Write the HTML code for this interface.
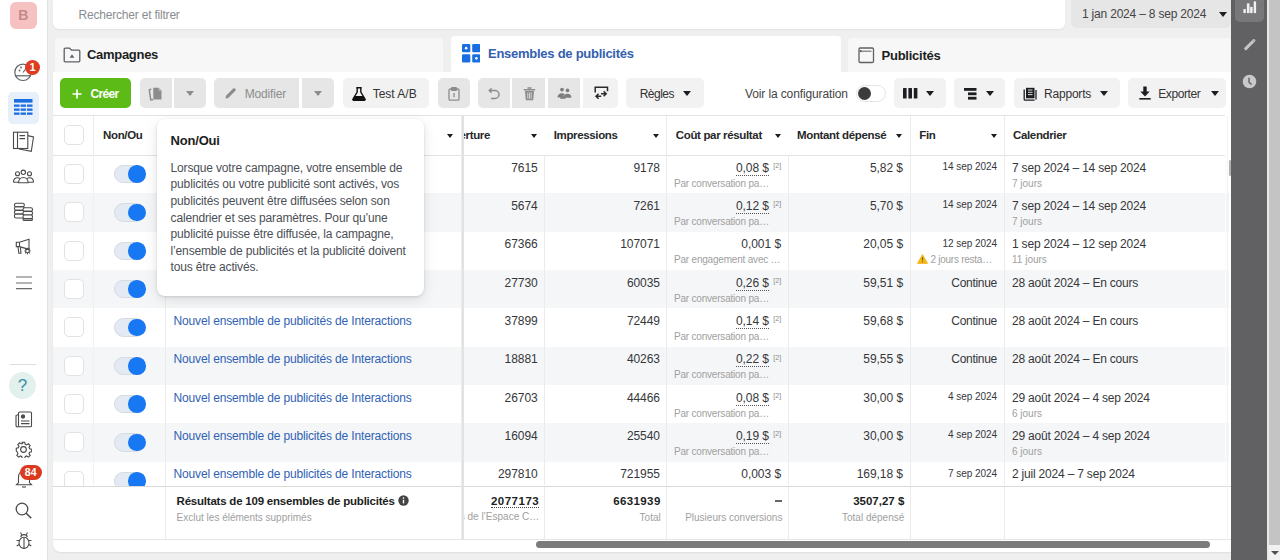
<!DOCTYPE html>
<html lang="fr"><head><meta charset="utf-8"><title>Ads Manager</title>
<style>
*{box-sizing:border-box;margin:0;padding:0}
html,body{width:1280px;height:560px;overflow:hidden}
body{position:relative;background:#efefef;font-family:"Liberation Sans",Arial,sans-serif;color:#1c1e21;font-size:12px}
.a{position:absolute}
#side{left:0;top:0;width:48px;height:560px;background:#fff;border-right:1px solid #e2e2e2}
#search{left:53px;top:0;width:1012px;height:28.5px;background:#fff;border-radius:0 0 6px 6px;box-shadow:0 1px 2px rgba(0,0,0,.06)}
#search span{position:absolute;left:25.5px;top:7.7px;color:#8a8d91;font-size:12px;letter-spacing:-.2px;line-height:14px}
#date{left:1071px;top:0;width:160px;height:28px;background:#e6e6e6;border-radius:0 0 6px 6px}
#date span{position:absolute;left:11px;top:7px;color:#444;font-size:12px;letter-spacing:-.2px;line-height:14px}
.car{position:absolute;width:0;height:0;border-left:4.5px solid transparent;border-right:4.5px solid transparent;border-top:5px solid #1c1e21}
#dpanel{left:1231px;top:0;width:36px;height:560px;background:#616163}
#vscroll{left:1267px;top:0;width:13px;height:560px;background:#c4c4c4;border-left:2px solid #e9e9e9}
#card{left:53px;top:72px;width:1178px;height:479.5px;background:#fff;border-radius:0 0 0 8px;box-shadow:0 1px 2px rgba(0,0,0,.07)}
.tab{position:absolute;top:38px;height:34px;background:#f7f7f7;border-radius:4px 4px 0 0}
.tab b{position:absolute;top:10px;font-size:13px;letter-spacing:-.27px;line-height:15px;font-weight:700}
.btn{position:absolute;top:78px;height:29.6px;border-radius:5px;background:#f2f2f2}
.dis{background:#e6e6e6}
.bt{position:absolute;top:8px;font-size:12px;line-height:14px;letter-spacing:-.15px;color:#3a3b3c}
.row{position:absolute;left:53px;width:1176px;height:38.33px}
.row.g{background:#f5f6f7}
.vl{position:absolute;width:1px;background:#ebebeb}
.c{position:absolute;white-space:nowrap;font-size:12px;line-height:14px;letter-spacing:-.1px;color:#36373a}
.r{text-align:right}
.sub{position:absolute;white-space:nowrap;font-size:10px;line-height:12px;color:#a0a0a0}
.hd{position:absolute;top:129px;font-weight:700;font-size:11.5px;letter-spacing:-.35px;line-height:13px;white-space:nowrap;color:#27282a}
.hc{position:absolute;top:134px;width:0;height:0;border-left:3.5px solid transparent;border-right:3.5px solid transparent;border-top:4px solid #1c1e21}
.cb{position:absolute;left:64px;width:20px;height:20px;border:1px solid #e1e2e4;border-radius:5px;background:#fff}
.tg{position:absolute;left:114px;width:31px;height:18.5px;border-radius:10px;background:#e3eaf4;border:1px solid #d5dbe3}
.tg i{position:absolute;right:-1.5px;top:-0.5px;width:17.5px;height:17.5px;border-radius:50%;background:#1877f2}
.nm{position:absolute;left:173.5px;color:#2f62b5;font-size:12px;letter-spacing:-.15px;line-height:14px;white-space:nowrap}
.cost{border-bottom:1px dotted #555}
.sup{position:absolute;font-size:7px;color:#8a8a8a;line-height:8px}
.fin{font-size:10px;line-height:12px;letter-spacing:-.1px}
.cal{letter-spacing:-.2px}
.ft{font-size:11.5px;line-height:13px;font-weight:700;white-space:nowrap}
.c.r{letter-spacing:-.05px}
#tip{left:157px;top:118.5px;width:267px;height:177.5px;background:#fff;border-radius:8px;box-shadow:0 1px 3px rgba(0,0,0,.12),0 4px 14px rgba(0,0,0,.10)}
#tip b{position:absolute;left:13.6px;top:14.5px;font-size:13px;line-height:15px;letter-spacing:-.2px}
#tip p{position:absolute;left:13.6px;top:41.3px;font-size:12px;line-height:16.6px;letter-spacing:-.16px;color:#4b4f56;white-space:nowrap}
</style></head><body>

<!-- LEFT SIDEBAR -->
<div id="side" class="a">
<div class="a" style="left:10px;top:2px;width:26.5px;height:26.5px;border-radius:6px;background:#f6c1c1;color:#c48a8a;font-weight:700;font-size:14px;line-height:27px;text-align:center">B</div>
<svg class="a" style="left:0;top:55px" width="48" height="30" viewBox="0 0 48 30">
 <circle cx="23" cy="17.3" r="8.2" fill="none" stroke="#5f6368" stroke-width="1.2"/>
 <path d="M15.2 20.8 H30.8" stroke="#5f6368" stroke-width="1.2"/>
 <circle cx="19.5" cy="15.5" r="0.9" fill="#5f6368"/><circle cx="21" cy="12.5" r="0.9" fill="#5f6368"/><path d="M23 17.5l3-4" stroke="#5f6368" stroke-width="1.1"/>
</svg>
<div class="a" style="left:25px;top:59.5px;width:15px;height:15px;border-radius:50%;background:#de3b1f;color:#fff;font-weight:700;font-size:11px;line-height:15px;text-align:center">1</div>
<div class="a" style="left:8px;top:91.5px;width:31px;height:32px;border-radius:5px;background:#e7effb"></div>
<svg class="a" style="left:14px;top:99px" width="19" height="17" viewBox="0 0 19 17">
 <rect x="0" y="0" width="18.5" height="3.6" fill="#1b6fe0"/>
 <g fill="#1b6fe0"><rect x="0" y="5.5" width="5.6" height="2.3"/><rect x="6.6" y="5.5" width="5.4" height="2.3"/><rect x="13" y="5.5" width="5.5" height="2.3"/>
 <rect x="0" y="9.5" width="5.6" height="2.3"/><rect x="6.6" y="9.5" width="5.4" height="2.3"/><rect x="13" y="9.5" width="5.5" height="2.3"/>
 <rect x="0" y="13.5" width="5.6" height="2.3"/><rect x="6.6" y="13.5" width="5.4" height="2.3"/><rect x="13" y="13.5" width="5.5" height="2.3"/></g>
</svg>
<svg class="a" style="left:12px;top:131px" width="24" height="22" viewBox="0 0 24 22" fill="none" stroke="#4a4a4a" stroke-width="1.1">
 <path d="M15.8 4.6L21.5 6 19.3 20.3 7 18"/>
 <rect x="1.5" y="1.2" width="14.3" height="16.3" fill="#fff"/>
 <path d="M5.5 1.2v16.3"/>
 <path d="M7.5 4.6h5.5M7.5 7.6h5.5"/>
</svg>
<svg class="a" style="left:12px;top:166px" width="24" height="20" viewBox="0 0 24 20" fill="none" stroke="#4a4a4a" stroke-width="1.1">
 <circle cx="5.5" cy="7.8" r="2"/><circle cx="11.3" cy="6.3" r="2.2"/><circle cx="17.5" cy="7.8" r="2"/>
 <path d="M1.5 16.3c0-2.6 1.6-4.5 4-4.5c1 0 1.8 .3 2.4 .8M21.5 16.3c0-2.6-1.6-4.5-4-4.5c-1 0-1.8 .3-2.4 .8"/>
 <path d="M6.5 16.8c0-3.2 2.1-5.3 4.8-5.3s4.8 2.1 4.8 5.3z"/>
 <path d="M1.5 16.3h5M16.1 16.3h5.4"/>
</svg>
<svg class="a" style="left:12px;top:201px" width="24" height="22" viewBox="0 0 24 22" fill="none" stroke="#4a4a4a" stroke-width="1.1">
 <rect x="2.5" y="2.2" width="9.8" height="3.6" rx="1.6"/><rect x="2.5" y="5.8" width="9.8" height="3.6" rx="1.6"/><rect x="2.5" y="9.4" width="9.8" height="3.6" rx="1.6"/><rect x="2.5" y="13" width="9.8" height="4" rx="1.6"/>
 <rect x="11" y="6.8" width="9.5" height="3.6" rx="1.6" fill="#fff"/><rect x="11" y="10.4" width="9.5" height="3.6" rx="1.6" fill="#fff"/><rect x="11" y="14" width="9.5" height="3.6" rx="1.6" fill="#fff"/><rect x="11" y="17.6" width="9.5" height="1.8" rx=".9" fill="#fff"/>
</svg>
<svg class="a" style="left:14px;top:238px" width="20" height="18" viewBox="0 0 20 18" fill="none" stroke="#4a4a4a" stroke-width="1.1">
 <path d="M2.3 4.2h3.2l9.5-3v10.2L5.5 8.6H2.3z"/><path d="M5.5 4.2v4.4"/><path d="M4 8.8l.8 6.5h2.2l-.6-6"/>
 <circle cx="13.5" cy="13" r="1.8"/><path d="M13.5 9.8v1.2M13.5 15v1.3M10.3 13h1.3M15.4 13h1.3M11.2 10.7l.9.9M15 14.4l.9.9M11.2 15.3l.9-.9M15 11.6l.9-.9"/>
</svg>
<svg class="a" style="left:16px;top:270px" width="16" height="22" viewBox="0 0 16 22" stroke="#6a6a6a" stroke-width="1.2"><path d="M0 7h16M0 13h16M0 18.6h16"/></svg>
<div class="a" style="left:10px;top:364px;width:26px;height:1px;background:#ddd"></div>
<div class="a" style="left:9px;top:372px;width:27px;height:27px;border-radius:50%;background:#e2f0ee;color:#3b8fa8;font-size:17px;line-height:27px;text-align:center">?</div>
<svg class="a" style="left:14px;top:410px" width="20" height="19" viewBox="0 0 20 19" fill="none" stroke="#4a4a4a" stroke-width="1.1">
 <rect x="4.5" y="2" width="13" height="14.8" rx="1"/><path d="M4.5 4.5L2 5.5v10c0 .8.8 1.5 2.5 1.5"/>
 <circle cx="9" cy="6.5" r="1.6" fill="#4a4a4a"/><path d="M7 11h8.5M7 13.6h8.5"/>
</svg>
<svg class="a" style="left:15px;top:441px" width="17" height="17" viewBox="0 0 24 24" fill="none" stroke="#4a4a4a" stroke-width="1.6">
 <circle cx="12" cy="12" r="4"/>
 <path d="M10.2 1.8h3.6l.6 2.9 2 .9 2.5-1.6 2.5 2.5-1.6 2.5.9 2 2.9.6v3.6l-2.9.6-.9 2 1.6 2.5-2.5 2.5-2.5-1.6-2 .9-.6 2.9h-3.6l-.6-2.9-2-.9-2.5 1.6-2.5-2.5 1.6-2.5-.9-2L1.8 13.8v-3.6l2.9-.6.9-2-1.6-2.5 2.5-2.5 2.5 1.6 2-.9z"/>
</svg>
<svg class="a" style="left:13.5px;top:467px" width="20" height="22" viewBox="0 0 20 22" fill="none" stroke="#4a4a4a" stroke-width="1.1">
 <path d="M4.5 15.5V9.5a5.5 5.5 0 0 1 11 0v6l2 2.3H2.5z"/><path d="M8 20h4"/>
</svg>
<div class="a" style="left:20px;top:465.4px;width:21.7px;height:15px;border-radius:8px;background:#dc3a1f;color:#fff;font-weight:700;font-size:10.5px;line-height:15px;text-align:center;letter-spacing:.2px">84</div>
<svg class="a" style="left:15px;top:502px" width="18" height="17" viewBox="0 0 18 17" fill="none" stroke="#4a4a4a" stroke-width="1.3">
 <circle cx="7" cy="7" r="5.8"/><path d="M11.2 11.2L16.2 16.2" stroke-width="1.6"/>
</svg>
<svg class="a" style="left:15px;top:531px" width="18" height="19" viewBox="0 0 18 19" fill="none" stroke="#4a4a4a" stroke-width="1.1">
 <path d="M5.8 6.2a3.2 2.6 0 0 1 6.4 0"/><ellipse cx="9" cy="11.8" rx="5" ry="5.6"/><path d="M9 6.4v11M5.5 1.5l1.3 2.2M12.5 1.5l-1.3 2.2M4 9.5H1.5M14 9.5h2.5M4 13.5l-2.3 1.5M14 13.5l2.3 1.5"/>
</svg>
</div>

<!-- TOP -->
<div id="search" class="a"><span>Rechercher et filtrer</span></div>
<div id="date" class="a"><span>1 jan 2024 – 8 sep 2024</span><i class="car" style="left:148px;top:12px"></i></div>

<!-- CARD -->
<div id="card" class="a"></div>
<div class="tab" style="left:55px;width:388px"></div>
<svg class="a" style="left:63px;top:47px" width="18" height="16" viewBox="0 0 18 16" fill="none" stroke="#5f6064" stroke-width="1.3">
 <path d="M1.2 2.2c0-.6.4-1 1-1h4.3l2 2h7.3c.6 0 1 .4 1 1v9.6c0 .6-.4 1-1 1H2.2c-.6 0-1-.4-1-1z"/>
 <path d="M9 7.2l2.3 3.6H6.7z" fill="#5f6064" stroke="none"/>
</svg>
<b class="a" style="left:87px;top:47.3px;font-size:13px;letter-spacing:-.3px;line-height:15px">Campagnes</b>
<div class="tab" style="left:451px;width:390px;top:36px;height:37px;background:#fff"></div>
<svg class="a" style="left:461.5px;top:44.3px" width="18.5" height="18.5" viewBox="0 0 18.5 18.5">
 <g fill="#1a6fe0"><rect x="0" y="0" width="8.3" height="8.3" rx="1.3"/><rect x="10.2" y="0" width="8.3" height="8.3" rx="1.3"/>
 <rect x="0" y="10.2" width="8.3" height="8.3" rx="1.3"/><rect x="10.2" y="10.2" width="8.3" height="8.3" rx="1.3"/></g>
 <circle cx="4.15" cy="4.15" r="1.3" fill="#fff"/><circle cx="14.35" cy="14.35" r="1.3" fill="#fff"/>
</svg>
<b class="a" style="left:488px;top:46.2px;font-size:13px;letter-spacing:-.26px;line-height:15px;color:#3360b0">Ensembles de publicités</b>
<div class="tab" style="left:848px;width:383px"></div>
<svg class="a" style="left:858px;top:47px" width="17" height="16.5" viewBox="0 0 17 16.5" fill="none" stroke="#5f6064" stroke-width="1.3">
 <rect x="1" y="1" width="14.5" height="14.5" rx="1.2"/><path d="M3.8 4.2H13.5" stroke-width="1"/><circle cx="2.8" cy="4.2" r="0.5" fill="#5f6064"/>
</svg>
<b class="a" style="left:881.5px;top:47.5px;font-size:13px;letter-spacing:-.24px;line-height:15px">Publicités</b>


<!-- TOOLBAR -->
<div class="btn" style="left:60.3px;width:71.2px;background:#5dbb17"></div>
<svg class="a" style="left:72px;top:88.5px" width="10" height="10" viewBox="0 0 10 10" stroke="#fff" stroke-width="1.7"><path d="M5 0.5v9M0.5 5h9"/></svg>
<span class="bt a" style="left:90.5px;top:86.6px;color:#fff;font-weight:700;font-size:12px;letter-spacing:-.7px">Créer</span>

<div class="btn dis" style="left:140px;width:31.5px;border-radius:5px 0 0 5px"></div>
<svg class="a" style="left:148px;top:86.5px" width="16" height="14" viewBox="0 0 16 14">
 <path d="M3.2 1.8 L1.3 3 L2.8 13 L5.2 12.6" fill="none" stroke="#8c8c8c" stroke-width="1.5"/>
 <path d="M5.3 0.8h5.2l3 3v8.8H5.3z" fill="#8c8c8c"/><path d="M10.5 0.8v3h3" fill="#b4b4b4"/>
</svg>
<div class="btn dis" style="left:174px;width:31.6px;border-radius:0 5px 5px 0"></div>
<i class="car" style="left:185.5px;top:91px;border-top-color:#8c8c8c"></i>

<div class="btn dis" style="left:214.4px;width:85px;border-radius:5px 0 0 5px"></div>
<svg class="a" style="left:224px;top:86.5px" width="13" height="13" viewBox="0 0 13 13"><path d="M1.5 11.5l0.5-2.7L9.2 1.6a1.2 1.2 0 0 1 1.7 0l0.5 .5a1.2 1.2 0 0 1 0 1.7L4.2 11z" fill="#8c8c8c"/></svg>
<span class="bt a" style="left:244.7px;top:86.6px;color:#8c8c8c;letter-spacing:-.15px">Modifier</span>
<div class="btn dis" style="left:302.3px;width:32.1px;border-radius:0 5px 5px 0"></div>
<i class="car" style="left:313.5px;top:91px;border-top-color:#8c8c8c"></i>

<div class="btn" style="left:342.8px;width:86.6px"></div>
<svg class="a" style="left:351.5px;top:86.5px" width="14" height="14" viewBox="0 0 14 14"><path d="M4.3 0.8h5.4M5.2 0.8v4.2L1 12c-.4.7 0 1.3.8 1.3h10.4c.8 0 1.2-.6.8-1.3L8.8 5V0.8" fill="none" stroke="#111" stroke-width="1.4"/><path d="M2.6 9h8.8l1.6 3c.3.6 0 1-.6 1H1.6c-.6 0-.9-.4-.6-1z" fill="#111"/></svg>
<span class="bt a" style="left:372.7px;top:86.6px;color:#333;letter-spacing:0px">Test A/B</span>

<div class="btn dis" style="left:437.8px;width:32.2px"></div>
<svg class="a" style="left:448px;top:86.5px" width="12" height="14" viewBox="0 0 12 14" fill="none" stroke="#8c8c8c" stroke-width="1.3"><rect x="1" y="2" width="10" height="11.2" rx="1.2"/><rect x="3.6" y="0.7" width="4.8" height="2.6" rx=".6" fill="#8c8c8c"/><path d="M6 6v4.2" /></svg>

<div class="btn dis" style="left:477.8px;width:32.5px;border-radius:5px 0 0 5px"></div>
<svg class="a" style="left:487px;top:87.5px" width="14" height="13" viewBox="0 0 14 13" fill="none" stroke="#8c8c8c" stroke-width="1.5"><path d="M2.5 2.5h5.5a4 4 0 0 1 0 8H4"/><path d="M4.6 0.4L2.3 2.5l2.3 2.1"/></svg>
<div class="btn dis" style="left:512.3px;width:32.7px;border-radius:0"></div>
<svg class="a" style="left:522.5px;top:86.5px" width="13" height="14" viewBox="0 0 13 14"><path d="M4.5 1h4M0.8 2.8h11.4" stroke="#8c8c8c" stroke-width="1.4"/><path d="M2 4h9l-.8 9.3H2.8z" fill="#8c8c8c"/><path d="M4.8 5.5v6.3M6.5 5.5v6.3M8.2 5.5v6.3" stroke="#e6e6e6" stroke-width=".8"/></svg>
<div class="btn dis" style="left:547.8px;width:32.2px;border-radius:0"></div>
<svg class="a" style="left:556px;top:87px" width="16" height="13" viewBox="0 0 16 13" fill="#7d7d7d"><circle cx="6" cy="2.6" r="1.9"/><circle cx="11.5" cy="3.4" r="1.8"/><path d="M1.5 10.5c0-2.6 1.8-4.3 4.3-4.3 1.2 0 2.2.4 2.9 1.1-.9.8-1.4 1.9-1.5 3.2z"/><path d="M7.6 10.8c0-2.4 1.6-4 3.9-4s3.9 1.6 3.9 4z"/><path d="M4 11.8c.3-1.6 1.3-2.6 2.8-2.6s2.5 1 2.8 2.6z"/></svg>
<div class="btn" style="left:582.5px;width:35.5px;border-radius:0 5px 5px 0"></div>
<svg class="a" style="left:592.5px;top:86px" width="16" height="15" viewBox="0 0 16 15" fill="none" stroke="#2a2a2a" stroke-width="1.5"><path d="M2.2 6.6V1.3h12.3v4"/><path d="M5.6 7.8L3 10.3l2.6 2.5M3 10.3h5.2"/><path d="M10.6 5.3l2.6 2.5-2.6 2.5M13.2 7.8H8"/></svg>

<div class="btn" style="left:626px;width:77.8px"></div>
<span class="bt a" style="left:639.7px;top:86.6px;color:#333;letter-spacing:-.5px">Règles</span>
<i class="car" style="left:683px;top:91px"></i>

<span class="bt a" style="left:745px;top:86.6px;color:#444;letter-spacing:-.12px">Voir la configuration</span>
<div class="a" style="left:855.5px;top:84.5px;width:30.5px;height:17px;border-radius:9px;border:1px solid #e3e3e3;background:#fff"></div>
<div class="a" style="left:857.5px;top:86.5px;width:13px;height:13px;border-radius:50%;background:#3a3b3c"></div>

<div class="btn" style="left:893.8px;width:51.8px"></div>
<svg class="a" style="left:902.5px;top:88px" width="15" height="11" viewBox="0 0 15 11" fill="#1c1e21"><rect x="0" y="0" width="3.6" height="10.5" rx=".5"/><rect x="5.4" y="0" width="3.6" height="10.5" rx=".5"/><rect x="10.8" y="0" width="3.6" height="10.5" rx=".5"/></svg>
<i class="car" style="left:925.5px;top:91px"></i>

<div class="btn" style="left:953.8px;width:51.2px"></div>
<svg class="a" style="left:963.5px;top:87.5px" width="13" height="12" viewBox="0 0 13 12" fill="#1c1e21"><rect x="0" y="0" width="12.5" height="2.8"/><rect x="4" y="4.4" width="8.5" height="2.8"/><rect x="4" y="8.8" width="8.5" height="2.8"/></svg>
<i class="car" style="left:985.5px;top:91px"></i>

<div class="btn" style="left:1013.6px;width:106.4px"></div>
<svg class="a" style="left:1022.5px;top:86.5px" width="15" height="14" viewBox="0 0 15 14"><path d="M3 0.8h8.5v10.5H3z" fill="#1c1e21"/><path d="M5 3h4.5M5 5.3h4.5M5 7.6h4.5" stroke="#f2f2f2" stroke-width=".9"/><path d="M1.2 2.5v9.7c0 .5.4 .9.9 .9h9.5" fill="none" stroke="#1c1e21" stroke-width="1.3"/><path d="M13 3v9.5" stroke="#1c1e21" stroke-width="1.3"/></svg>
<span class="bt a" style="left:1044px;top:86.6px;color:#333;letter-spacing:-.2px">Rapports</span>
<i class="car" style="left:1100px;top:91px"></i>

<div class="btn" style="left:1127.7px;width:97.9px"></div>
<svg class="a" style="left:1138.5px;top:86px" width="12" height="14" viewBox="0 0 12 14" fill="#1c1e21"><path d="M4.3 0.5h3.4v5h3l-4.7 5-4.7-5h3z"/><rect x="0.3" y="12" width="11.4" height="1.6"/></svg>
<span class="bt a" style="left:1158.2px;top:86.6px;color:#333;letter-spacing:-.4px">Exporter</span>
<i class="car" style="left:1210.5px;top:91px"></i>

<!--TABLE-->
<!-- TABLE -->
<div class="a" style="left:53px;top:115px;width:1172px;height:1px;background:#e3e3e3"></div>
<div class="a" style="left:53px;top:155px;width:1172px;height:1px;background:#e3e3e3"></div>
<div class="cb" style="top:125.3px"></div>
<b class="hd" style="left:103px">Non/Ou</b>
<i class="hc" style="left:447px"></i>
<div class="a" style="left:463.5px;top:120px;width:80px;height:30px;overflow:hidden"><b class="hd" style="left:-4px;top:8.7px">erture</b></div>
<i class="hc" style="left:531px"></i>
<b class="hd" style="left:553.7px">Impressions</b><i class="hc" style="left:652.5px"></i>
<b class="hd" style="left:675.8px">Coût par résultat</b><i class="hc" style="left:775px"></i>
<b class="hd" style="left:797px">Montant dépensé</b><i class="hc" style="left:896px"></i>
<b class="hd" style="left:919.3px">Fin</b><i class="hc" style="left:991px"></i>
<b class="hd" style="left:1013px">Calendrier</b>
<div class="vl" style="left:93px;top:116px;height:39px"></div>
<div class="vl" style="left:666px;top:116px;height:39px"></div>
<div class="vl" style="left:910px;top:116px;height:39px"></div>
<div class="vl" style="left:1004px;top:116px;height:39px"></div>
<div class="row" style="top:155.00px;height:38.33px">
 <div class="vl" style="left:40px;top:0;height:100%;background:#f1f1f1"></div>
 <div class="vl" style="left:112px;top:0;height:100%"></div>
 <div class="vl" style="left:491px;top:0;height:100%"></div>
 <div class="vl" style="left:613px;top:0;height:100%"></div>
 <div class="vl" style="left:735px;top:0;height:100%"></div>
 <div class="vl" style="left:857px;top:0;height:100%"></div>
 <div class="vl" style="left:951px;top:0;height:100%"></div>
 <div class="vl" style="left:1172px;top:0;height:100%;background:#fbfbfb"></div>
</div>
<div class="cb" style="top:163.97px"></div>
<div class="tg" style="top:164.87px"><i></i></div>
<span class="c r" style="right:742.3px;top:160.50px">7615</span>
<span class="c r" style="right:620px;top:160.50px">9178</span>
<span class="c r" style="right:511px;top:160.50px"><span class="cost">0,08 $</span></span>
<span class="sup" style="left:773.3px;top:162.00px">[2]</span>
<span class="sub" style="left:674px;top:177.70px;letter-spacing:-.2px">Par conversation pa…</span>
<span class="c r" style="right:377px;top:160.50px">5,82 $</span>
<span class="c r fin" style="right:283px;top:160.90px">14 sep 2024</span>
<span class="c cal" style="left:1012px;top:160.50px">7 sep 2024 – 14 sep 2024</span>
<span class="sub" style="left:1012px;top:177.70px">7 jours</span>
<div class="row g" style="top:193.33px;height:38.33px">
 <div class="vl" style="left:40px;top:0;height:100%;background:#f1f1f1"></div>
 <div class="vl" style="left:112px;top:0;height:100%"></div>
 <div class="vl" style="left:491px;top:0;height:100%"></div>
 <div class="vl" style="left:613px;top:0;height:100%"></div>
 <div class="vl" style="left:735px;top:0;height:100%"></div>
 <div class="vl" style="left:857px;top:0;height:100%"></div>
 <div class="vl" style="left:951px;top:0;height:100%"></div>
 <div class="vl" style="left:1172px;top:0;height:100%;background:#fbfbfb"></div>
</div>
<div class="cb" style="top:202.30px"></div>
<div class="tg" style="top:203.20px"><i></i></div>
<span class="c r" style="right:742.3px;top:198.83px">5674</span>
<span class="c r" style="right:620px;top:198.83px">7261</span>
<span class="c r" style="right:511px;top:198.83px"><span class="cost">0,12 $</span></span>
<span class="sup" style="left:773.3px;top:200.33px">[2]</span>
<span class="sub" style="left:674px;top:216.03px;letter-spacing:-.2px">Par conversation pa…</span>
<span class="c r" style="right:377px;top:198.83px">5,70 $</span>
<span class="c r fin" style="right:283px;top:199.23px">14 sep 2024</span>
<span class="c cal" style="left:1012px;top:198.83px">7 sep 2024 – 14 sep 2024</span>
<span class="sub" style="left:1012px;top:216.03px">7 jours</span>
<div class="row" style="top:231.67px;height:38.33px">
 <div class="vl" style="left:40px;top:0;height:100%;background:#f1f1f1"></div>
 <div class="vl" style="left:112px;top:0;height:100%"></div>
 <div class="vl" style="left:491px;top:0;height:100%"></div>
 <div class="vl" style="left:613px;top:0;height:100%"></div>
 <div class="vl" style="left:735px;top:0;height:100%"></div>
 <div class="vl" style="left:857px;top:0;height:100%"></div>
 <div class="vl" style="left:951px;top:0;height:100%"></div>
 <div class="vl" style="left:1172px;top:0;height:100%;background:#fbfbfb"></div>
</div>
<div class="cb" style="top:240.63px"></div>
<div class="tg" style="top:241.53px"><i></i></div>
<span class="c r" style="right:742.3px;top:237.17px">67366</span>
<span class="c r" style="right:620px;top:237.17px">107071</span>
<span class="c r" style="right:499px;top:237.17px">0,001 $</span>
<span class="sub" style="left:674px;top:254.37px;letter-spacing:-.2px">Par engagement avec …</span>
<span class="c r" style="right:377px;top:237.17px">20,05 $</span>
<span class="c r fin" style="right:283px;top:237.57px">12 sep 2024</span>
<svg class="a" style="left:916.5px;top:253.67px" width="11" height="10" viewBox="0 0 11 10"><path d="M5.5 0.6L10.6 9.4H0.4z" fill="#f2b619" stroke="#f2b619" stroke-width=".8" stroke-linejoin="round"/><path d="M5.5 3.3v3" stroke="#7a5a00" stroke-width="1.1"/><circle cx="5.5" cy="7.8" r=".6" fill="#7a5a00"/></svg>
<span class="sub" style="left:930.4px;top:253.97px;letter-spacing:-.25px">2 jours resta…</span>
<span class="c cal" style="left:1012px;top:237.17px">1 sep 2024 – 12 sep 2024</span>
<span class="sub" style="left:1012px;top:254.37px">11 jours</span>
<div class="row g" style="top:270.00px;height:38.33px">
 <div class="vl" style="left:40px;top:0;height:100%;background:#f1f1f1"></div>
 <div class="vl" style="left:112px;top:0;height:100%"></div>
 <div class="vl" style="left:491px;top:0;height:100%"></div>
 <div class="vl" style="left:613px;top:0;height:100%"></div>
 <div class="vl" style="left:735px;top:0;height:100%"></div>
 <div class="vl" style="left:857px;top:0;height:100%"></div>
 <div class="vl" style="left:951px;top:0;height:100%"></div>
 <div class="vl" style="left:1172px;top:0;height:100%;background:#fbfbfb"></div>
</div>
<div class="cb" style="top:278.97px"></div>
<div class="tg" style="top:279.87px"><i></i></div>
<span class="nm" style="top:275.50px">Nouvel ensemble de publicités de Interactions</span>
<span class="c r" style="right:742.3px;top:275.50px">27730</span>
<span class="c r" style="right:620px;top:275.50px">60035</span>
<span class="c r" style="right:511px;top:275.50px"><span class="cost">0,26 $</span></span>
<span class="sup" style="left:773.3px;top:277.00px">[2]</span>
<span class="sub" style="left:674px;top:292.70px;letter-spacing:-.2px">Par conversation pa…</span>
<span class="c r" style="right:377px;top:275.50px">59,51 $</span>
<span class="c r" style="right:283px;top:275.50px;letter-spacing:-.3px">Continue</span>
<span class="c cal" style="left:1012px;top:275.50px">28 août 2024 – En cours</span>
<div class="row" style="top:308.33px;height:38.33px">
 <div class="vl" style="left:40px;top:0;height:100%;background:#f1f1f1"></div>
 <div class="vl" style="left:112px;top:0;height:100%"></div>
 <div class="vl" style="left:491px;top:0;height:100%"></div>
 <div class="vl" style="left:613px;top:0;height:100%"></div>
 <div class="vl" style="left:735px;top:0;height:100%"></div>
 <div class="vl" style="left:857px;top:0;height:100%"></div>
 <div class="vl" style="left:951px;top:0;height:100%"></div>
 <div class="vl" style="left:1172px;top:0;height:100%;background:#fbfbfb"></div>
</div>
<div class="cb" style="top:317.30px"></div>
<div class="tg" style="top:318.20px"><i></i></div>
<span class="nm" style="top:313.83px">Nouvel ensemble de publicités de Interactions</span>
<span class="c r" style="right:742.3px;top:313.83px">37899</span>
<span class="c r" style="right:620px;top:313.83px">72449</span>
<span class="c r" style="right:511px;top:313.83px"><span class="cost">0,14 $</span></span>
<span class="sup" style="left:773.3px;top:315.33px">[2]</span>
<span class="sub" style="left:674px;top:331.03px;letter-spacing:-.2px">Par conversation pa…</span>
<span class="c r" style="right:377px;top:313.83px">59,68 $</span>
<span class="c r" style="right:283px;top:313.83px;letter-spacing:-.3px">Continue</span>
<span class="c cal" style="left:1012px;top:313.83px">28 août 2024 – En cours</span>
<div class="row g" style="top:346.66px;height:38.33px">
 <div class="vl" style="left:40px;top:0;height:100%;background:#f1f1f1"></div>
 <div class="vl" style="left:112px;top:0;height:100%"></div>
 <div class="vl" style="left:491px;top:0;height:100%"></div>
 <div class="vl" style="left:613px;top:0;height:100%"></div>
 <div class="vl" style="left:735px;top:0;height:100%"></div>
 <div class="vl" style="left:857px;top:0;height:100%"></div>
 <div class="vl" style="left:951px;top:0;height:100%"></div>
 <div class="vl" style="left:1172px;top:0;height:100%;background:#fbfbfb"></div>
</div>
<div class="cb" style="top:355.63px"></div>
<div class="tg" style="top:356.53px"><i></i></div>
<span class="nm" style="top:352.16px">Nouvel ensemble de publicités de Interactions</span>
<span class="c r" style="right:742.3px;top:352.16px">18881</span>
<span class="c r" style="right:620px;top:352.16px">40263</span>
<span class="c r" style="right:511px;top:352.16px"><span class="cost">0,22 $</span></span>
<span class="sup" style="left:773.3px;top:353.66px">[2]</span>
<span class="sub" style="left:674px;top:369.36px;letter-spacing:-.2px">Par conversation pa…</span>
<span class="c r" style="right:377px;top:352.16px">59,55 $</span>
<span class="c r" style="right:283px;top:352.16px;letter-spacing:-.3px">Continue</span>
<span class="c cal" style="left:1012px;top:352.16px">28 août 2024 – En cours</span>
<div class="row" style="top:385.00px;height:38.33px">
 <div class="vl" style="left:40px;top:0;height:100%;background:#f1f1f1"></div>
 <div class="vl" style="left:112px;top:0;height:100%"></div>
 <div class="vl" style="left:491px;top:0;height:100%"></div>
 <div class="vl" style="left:613px;top:0;height:100%"></div>
 <div class="vl" style="left:735px;top:0;height:100%"></div>
 <div class="vl" style="left:857px;top:0;height:100%"></div>
 <div class="vl" style="left:951px;top:0;height:100%"></div>
 <div class="vl" style="left:1172px;top:0;height:100%;background:#fbfbfb"></div>
</div>
<div class="cb" style="top:393.96px"></div>
<div class="tg" style="top:394.86px"><i></i></div>
<span class="nm" style="top:390.50px">Nouvel ensemble de publicités de Interactions</span>
<span class="c r" style="right:742.3px;top:390.50px">26703</span>
<span class="c r" style="right:620px;top:390.50px">44466</span>
<span class="c r" style="right:511px;top:390.50px"><span class="cost">0,08 $</span></span>
<span class="sup" style="left:773.3px;top:392.00px">[2]</span>
<span class="sub" style="left:674px;top:407.70px;letter-spacing:-.2px">Par conversation pa…</span>
<span class="c r" style="right:377px;top:390.50px">30,00 $</span>
<span class="c r fin" style="right:283px;top:390.90px">4 sep 2024</span>
<span class="c cal" style="left:1012px;top:390.50px">29 août 2024 – 4 sep 2024</span>
<span class="sub" style="left:1012px;top:407.70px">6 jours</span>
<div class="row g" style="top:423.33px;height:38.33px">
 <div class="vl" style="left:40px;top:0;height:100%;background:#f1f1f1"></div>
 <div class="vl" style="left:112px;top:0;height:100%"></div>
 <div class="vl" style="left:491px;top:0;height:100%"></div>
 <div class="vl" style="left:613px;top:0;height:100%"></div>
 <div class="vl" style="left:735px;top:0;height:100%"></div>
 <div class="vl" style="left:857px;top:0;height:100%"></div>
 <div class="vl" style="left:951px;top:0;height:100%"></div>
 <div class="vl" style="left:1172px;top:0;height:100%;background:#fbfbfb"></div>
</div>
<div class="cb" style="top:432.30px"></div>
<div class="tg" style="top:433.20px"><i></i></div>
<span class="nm" style="top:428.83px">Nouvel ensemble de publicités de Interactions</span>
<span class="c r" style="right:742.3px;top:428.83px">16094</span>
<span class="c r" style="right:620px;top:428.83px">25540</span>
<span class="c r" style="right:511px;top:428.83px"><span class="cost">0,19 $</span></span>
<span class="sup" style="left:773.3px;top:430.33px">[2]</span>
<span class="sub" style="left:674px;top:446.03px;letter-spacing:-.2px">Par conversation pa…</span>
<span class="c r" style="right:377px;top:428.83px">30,00 $</span>
<span class="c r fin" style="right:283px;top:429.23px">4 sep 2024</span>
<span class="c cal" style="left:1012px;top:428.83px">29 août 2024 – 4 sep 2024</span>
<span class="sub" style="left:1012px;top:446.03px">6 jours</span>
<div class="row" style="top:461.66px;height:23.84px">
 <div class="vl" style="left:40px;top:0;height:100%;background:#f1f1f1"></div>
 <div class="vl" style="left:112px;top:0;height:100%"></div>
 <div class="vl" style="left:491px;top:0;height:100%"></div>
 <div class="vl" style="left:613px;top:0;height:100%"></div>
 <div class="vl" style="left:735px;top:0;height:100%"></div>
 <div class="vl" style="left:857px;top:0;height:100%"></div>
 <div class="vl" style="left:951px;top:0;height:100%"></div>
 <div class="vl" style="left:1172px;top:0;height:100%;background:#fbfbfb"></div>
</div>
<div class="cb" style="top:470.63px"></div>
<div class="tg" style="top:471.53px"><i></i></div>
<span class="nm" style="top:467.16px">Nouvel ensemble de publicités de Interactions</span>
<span class="c r" style="right:742.3px;top:467.16px">297810</span>
<span class="c r" style="right:620px;top:467.16px">721955</span>
<span class="c r" style="right:499px;top:467.16px">0,003 $</span>
<span class="c r" style="right:377px;top:467.16px">169,18 $</span>
<span class="c r fin" style="right:283px;top:467.56px">7 sep 2024</span>
<span class="c cal" style="left:1012px;top:467.16px">2 juil 2024 – 7 sep 2024</span>
<div class="a" style="left:460.5px;top:115px;width:3px;height:425px;background:#e2e2e2;border-left:1px solid #ececec"></div>
<div class="a" style="left:53px;top:485.5px;width:1178px;height:54px;background:#fff;border-top:1px solid #d9d9d9;border-bottom:1px solid #e6e6e6"></div>
<div class="vl" style="left:165px;top:486.5px;height:52.5px"></div>
<div class="vl" style="left:544px;top:486.5px;height:52.5px"></div>
<div class="vl" style="left:666px;top:486.5px;height:52.5px"></div>
<div class="vl" style="left:788px;top:486.5px;height:52.5px"></div>
<div class="vl" style="left:910px;top:486.5px;height:52.5px"></div>
<div class="vl" style="left:1004px;top:486.5px;height:52.5px"></div>
<div class="a" style="left:460.5px;top:486px;width:3px;height:53.5px;background:#e2e2e2;border-left:1px solid #ececec"></div>
<b class="a ft" style="left:176.6px;top:494.5px;letter-spacing:-.22px">Résultats de 109 ensembles de publicités</b>
<svg class="a" style="left:397.5px;top:495px" width="11" height="11" viewBox="0 0 11 11"><circle cx="5.5" cy="5.5" r="5.2" fill="#444"/><path d="M5.5 4.8v3.6" stroke="#fff" stroke-width="1.4"/><circle cx="5.5" cy="3" r=".85" fill="#fff"/></svg>
<span class="sub" style="left:176.6px;top:512px">Exclut les éléments supprimés</span>
<b class="a ft r" style="right:740.8px;top:494.5px;letter-spacing:.5px;border-bottom:1px dotted #444;line-height:12px">2077173</b>
<div class="a" style="left:463.5px;top:508px;width:80px;height:16px;overflow:hidden"><span class="sub" style="right:4.3px;top:3.3px">Personnes de l’Espace C…</span></div>
<b class="a ft r" style="right:619.3px;top:494.5px;letter-spacing:.4px">6631939</b>
<span class="sub" style="right:619.3px;top:512px">Total</span>
<div class="a" style="left:774.7px;top:500.2px;width:7.7px;height:1.6px;background:#666"></div>
<span class="sub" style="right:497.6px;top:512px">Plusieurs conversions</span>
<b class="a ft r" style="right:375.7px;top:494.5px">3507,27 $</b>
<span class="sub" style="right:375.7px;top:512px">Total dépensé</span>
<div class="a" style="left:536px;top:541px;width:674px;height:7px;border-radius:4px;background:#7b7b7b"></div>
<!--TABLE_END-->
<div id="tip" class="a"><b>Non/Oui</b><p>Lorsque votre campagne, votre ensemble de<br>publicités ou votre publicité sont activés, vos<br>publicités peuvent être diffusées selon son<br>calendrier et ses paramètres. Pour qu’une<br>publicité puisse être diffusée, la campagne,<br>l’ensemble de publicités et la publicité doivent<br>tous être activés.</p></div>
<!-- table inner scrollbar -->
<div class="a" style="left:1227px;top:116px;width:1px;height:424px;background:#f2f2f2"></div>
<div class="a" style="left:1229px;top:160px;width:2px;height:16px;background:#b0b0b0;border-radius:1px"></div>
<div id="dpanel" class="a">
<div class="a" style="left:4px;top:0;width:28.7px;height:22px;background:#78787a;border-radius:0 0 5px 5px"></div>
<svg class="a" style="left:12px;top:0" width="14" height="14" viewBox="0 0 14 14" fill="#f0f0f0"><rect x="0.4" y="9.1" width="2.4" height="4"/><rect x="3.9" y="3.4" width="2.6" height="9.7"/><rect x="7.1" y="6.9" width="2.5" height="6.2"/><rect x="10.7" y="1.4" width="2.4" height="11.7"/></svg>
<svg class="a" style="left:11px;top:36.5px" width="15" height="15" viewBox="0 0 15 15"><path d="M2.6 12.6a1.3 1.3 0 0 1-.2-1.8L10.8 2.4a1.5 1.5 0 0 1 2.1 0l.1.1a1.5 1.5 0 0 1 0 2.1L4.6 13a1.3 1.3 0 0 1-1.8-.2z" fill="#c4c4c4"/><path d="M10.4 2.8l2.1 2.1" stroke="#8a8a8a" stroke-width=".8"/></svg>
<svg class="a" style="left:11px;top:73.8px" width="15" height="15" viewBox="0 0 15 15"><circle cx="7.5" cy="7.5" r="6.8" fill="#c9c9c9"/><path d="M7 3.8v4.4l2.6 2.4" fill="none" stroke="#616163" stroke-width="1.4"/></svg>
</div>
<div id="vscroll" class="a"></div>
<div class="a" style="left:1269px;top:544.5px;width:11px;height:15.5px;background:#f1f1f1"></div>
<i class="car" style="left:1270.5px;top:551px;border-left-width:4px;border-right-width:4px;border-top-width:4.5px;border-top-color:#505050"></i>
</body></html>
